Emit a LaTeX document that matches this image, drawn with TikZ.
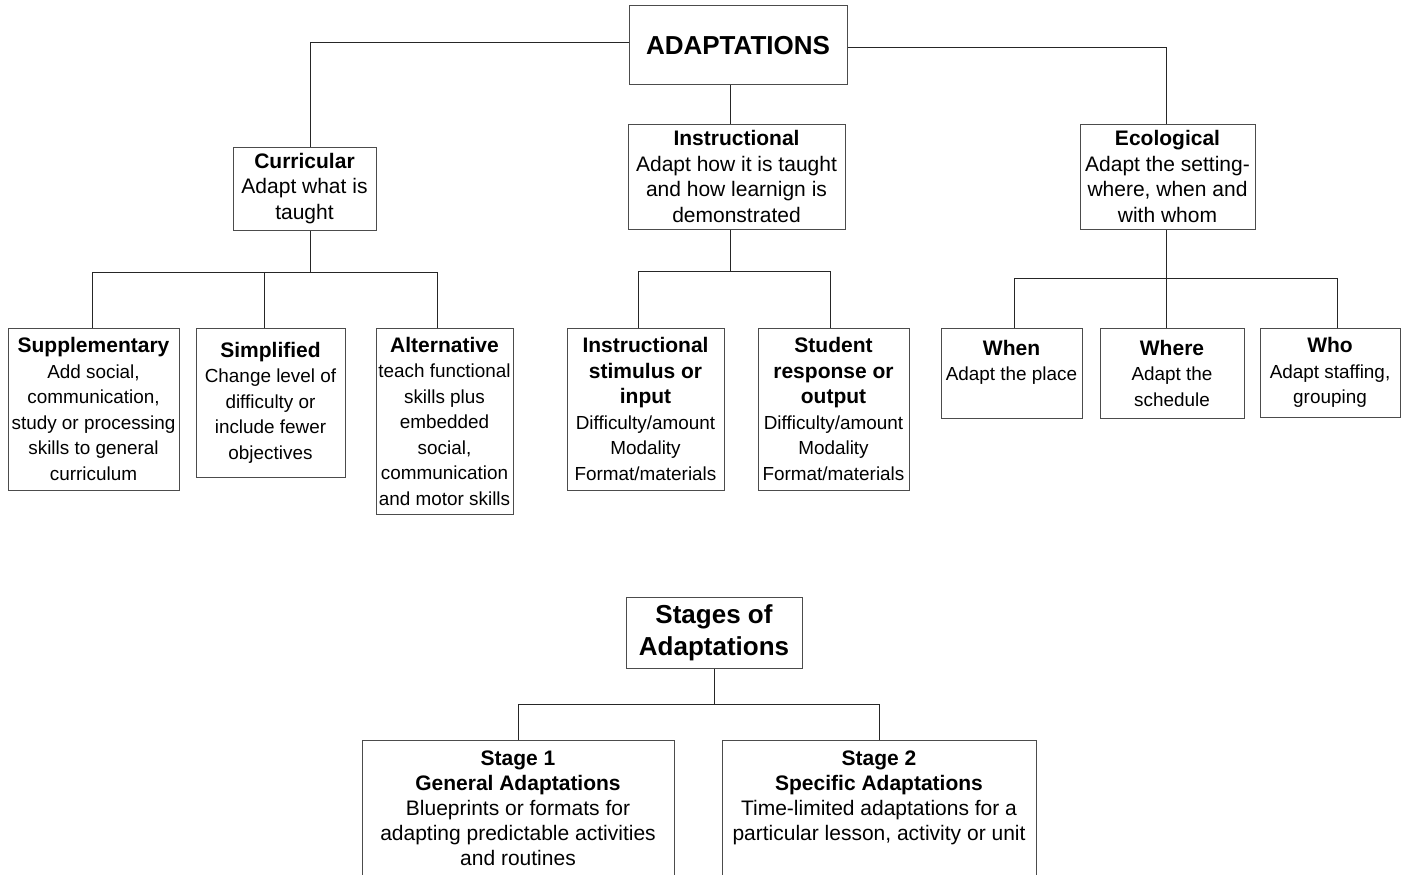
\documentclass[tikz,border=0pt]{standalone}
\usepackage{fontspec}
\setmainfont{Liberation Sans}
\newcommand\hd[1]{{\fontsize{21}{25.5}\selectfont\bfseries #1}}
\begin{document}
\begin{tikzpicture}[x=1pt,y=-1pt,
  box/.style={draw=black!70, line width=1pt, inner sep=0pt, align=center, text=black},
  big/.style={font=\fontsize{21}{25.5}\selectfont},
  small/.style={font=\fontsize{18.9}{25.5}\selectfont},
  txt/.style={inner sep=0pt, align=center, font=\fontsize{21}{25}\selectfont},
  conn/.style={draw=black!85, line width=0.9pt}]
\useasboundingbox (0,0) rectangle (1406,875);
\fill[white] (0,0) rectangle (1406,875);
\clip (0,0) rectangle (1406,875);

% top level
\node[box, minimum width=218, minimum height=79, font=\fontsize{26}{30}\selectfont\bfseries] (adapt) at (738,45.5) {ADAPTATIONS};
\node[box,big,minimum width=143,minimum height=83] (curr) at (304.5,188.5) {\textbf{Curricular}\\Adapt what is\\taught};
\node[box,big,minimum width=217,minimum height=105] (instr) at (736.5,176.5) {\textbf{Instructional}\\Adapt how it is taught\\and how learnign is\\demonstrated};
\node[box,big,minimum width=175,minimum height=105] (eco) at (1167.5,176.5) {\textbf{Ecological}\\Adapt the setting-\\where, when and\\with whom};

% second level
\node[box,small,minimum width=171,minimum height=162] (supp) at (93.5,409) {\hd{Supplementary}\\Add social,\\communication,\\study or processing\\skills to general\\curriculum};
\node[box,small,minimum width=149,minimum height=149] (simp) at (270.5,402.5) {\hd{Simplified}\\Change level of\\difficulty or\\include fewer\\objectives};
\node[box,small,minimum width=137,minimum height=186] (alt) at (444.5,421) {\hd{Alternative}\\teach functional\\skills plus\\embedded\\social,\\communication\\and motor skills};
\node[box,small,minimum width=157,minimum height=162] (stim) at (645.5,409) {\hd{Instructional}\\\hd{stimulus or}\\\hd{input}\\Difficulty/amount\\Modality\\Format/materials};
\node[box,small,minimum width=151,minimum height=162] (resp) at (833.5,409) {\hd{Student}\\\hd{response or}\\\hd{output}\\Difficulty/amount\\Modality\\Format/materials};
\node[box,small,minimum width=141,minimum height=90] (when) at (1011.5,373) {\hd{When}\\Adapt the place\\\mbox{}};
\node[box,small,minimum width=144,minimum height=90] (where) at (1172,373) {\hd{Where}\\Adapt the\\schedule};
\node[box,small,minimum width=140,minimum height=89] (who) at (1330,372.5) {\hd{Who}\\Adapt staffing,\\grouping};

% stages
\node[box, minimum width=176, minimum height=71, font=\fontsize{26}{32}\selectfont\bfseries] (stages) at (714,632.5) {Stages of\\Adaptations};
\node[box, minimum width=312, minimum height=200, anchor=north] (s1) at (518,740) {};
\node[box, minimum width=314, minimum height=200, anchor=north] (s2) at (879,740) {};
\node[txt, anchor=north] (s1t) at (518,751) {\textbf{Stage 1}\\\textbf{General Adaptations}\\Blueprints or formats for\\adapting predictable activities\\and routines};
\node[txt, anchor=north] (s2t) at (879,751) {\textbf{Stage 2}\\\textbf{Specific Adaptations}\\Time-limited adaptations for a\\particular lesson, activity or unit};

% connectors top
\coordinate (aL) at (310,42);
\coordinate (aR) at (1166,47);
\coordinate (aM) at (730,100);
\draw[conn] (adapt.west |- aL) -| (curr.north -| aL);
\draw[conn] (adapt.east |- aR) -| (eco.north -| aR);
\draw[conn] (adapt.south -| aM) -- (instr.north -| aM);

% curricular bus
\coordinate (cb) at (310,272);
\coordinate (cb1) at (92,272);
\coordinate (cb2) at (264,272);
\coordinate (cb3) at (437,272);
\draw[conn] (curr.south -| cb) -- (cb);
\draw[conn] (cb1 |- supp.north) -- (cb1) -- (cb3) -- (cb3 |- alt.north);
\draw[conn] (cb2) -- (cb2 |- simp.north);

% instructional bus
\coordinate (ib) at (730,271);
\coordinate (ib1) at (638,271);
\coordinate (ib2) at (830,271);
\draw[conn] (instr.south -| ib) -- (ib);
\draw[conn] (ib1 |- stim.north) -- (ib1) -- (ib2) -- (ib2 |- resp.north);

% ecological bus
\coordinate (eb) at (1166,278);
\coordinate (eb1) at (1014,278);
\coordinate (eb2) at (1337,278);
\draw[conn] (eco.south -| eb) -- (eb |- where.north);
\draw[conn] (eb1 |- when.north) -- (eb1) -- (eb2) -- (eb2 |- who.north);

% stages bus
\coordinate (sb) at (714,704);
\draw[conn] (stages.south) -- (sb);
\draw[conn] (s1.north) -- (s1.north |- sb) -- (s2.north |- sb) -- (s2.north);
\end{tikzpicture}
\end{document}
